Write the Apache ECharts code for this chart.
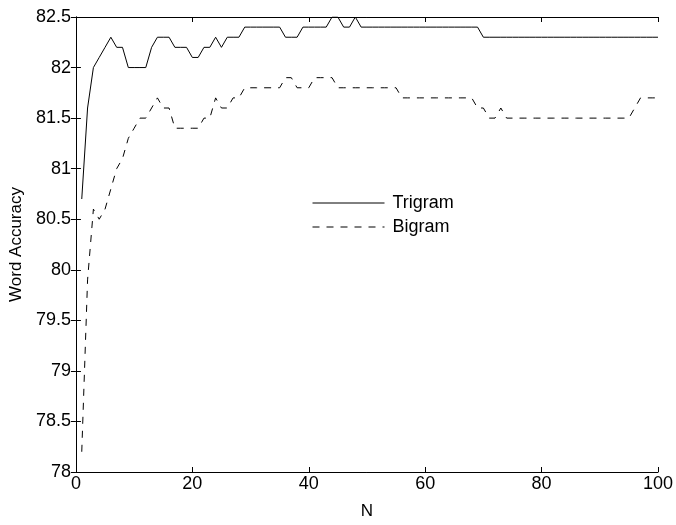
<!DOCTYPE html>
<html>
<head>
<meta charset="utf-8">
<script src="https://cdn.jsdelivr.net/npm/echarts@6/dist/echarts.min.js"></script>
<style>
html,body{margin:0;padding:0;background:#fff;}
#chart{width:676px;height:525px;}
</style>
</head>
<body>
<div id="chart"></div>
<script>
// N = 1..100
const trigram = [
  80.7, 81.6, 82.0, 82.1, 82.2, 82.3, 82.2, 82.2, 82.0, 82.0,
  82.0, 82.0, 82.2, 82.3, 82.3, 82.3, 82.2, 82.2, 82.2, 82.1,
  82.1, 82.2, 82.2, 82.3, 82.2, 82.3, 82.3, 82.3, 82.4, 82.4,
  82.4, 82.4, 82.4, 82.4, 82.4, 82.3, 82.3, 82.3, 82.4, 82.4,
  82.4, 82.4, 82.4, 82.5, 82.5, 82.4, 82.4, 82.5, 82.4, 82.4,
  82.4, 82.4, 82.4, 82.4, 82.4, 82.4, 82.4, 82.4, 82.4, 82.4,
  82.4, 82.4, 82.4, 82.4, 82.4, 82.4, 82.4, 82.4, 82.4, 82.3,
  82.3, 82.3, 82.3, 82.3, 82.3, 82.3, 82.3, 82.3, 82.3, 82.3,
  82.3, 82.3, 82.3, 82.3, 82.3, 82.3, 82.3, 82.3, 82.3, 82.3,
  82.3, 82.3, 82.3, 82.3, 82.3, 82.3, 82.3, 82.3, 82.3, 82.3
];
const bigram = [
  78.2, 79.9, 80.6, 80.5, 80.6, 80.8, 81.0, 81.1, 81.3, 81.4,
  81.5, 81.5, 81.6, 81.7, 81.6, 81.6, 81.4, 81.4, 81.4, 81.4,
  81.4, 81.5, 81.5, 81.7, 81.6, 81.6, 81.7, 81.7, 81.8, 81.8,
  81.8, 81.8, 81.8, 81.8, 81.8, 81.9, 81.9, 81.8, 81.8, 81.8,
  81.9, 81.9, 81.9, 81.9, 81.8, 81.8, 81.8, 81.8, 81.8, 81.8,
  81.8, 81.8, 81.8, 81.8, 81.8, 81.7, 81.7, 81.7, 81.7, 81.7,
  81.7, 81.7, 81.7, 81.7, 81.7, 81.7, 81.7, 81.7, 81.6, 81.6,
  81.5, 81.5, 81.6, 81.5, 81.5, 81.5, 81.5, 81.5, 81.5, 81.5,
  81.5, 81.5, 81.5, 81.5, 81.5, 81.5, 81.5, 81.5, 81.5, 81.5,
  81.5, 81.5, 81.5, 81.5, 81.5, 81.6, 81.7, 81.7, 81.7, 81.7
];
const seriesNames = ['Trigram', 'Bigram'];
const xLabel = 'N';
const yLabel = 'Word Accuracy';

const pairs = arr => arr.map((v, i) => [i + 1, v]);
const FONT = 'Liberation Sans, Arial, Helvetica, sans-serif';
const FS = 18;
const FS_NAME = 17;

const chart = echarts.init(document.getElementById('chart'), null, {renderer: 'canvas'});
const axisCommon = {
  axisLine: {show: true, lineStyle: {color: '#000', width: 1}},
  axisTick: {show: true, inside: true, length: 5, lineStyle: {color: '#000', width: 1}},
  splitLine: {show: false}
};
chart.setOption({
  animation: false,
  backgroundColor: '#fff',
  grid: {left: 70, right: 15, top: 17, bottom: 42, containLabel: false},
  legend: {
    orient: 'vertical',
    left: 307, top: 189,
    itemWidth: 72, itemHeight: 14, itemGap: 6,
    data: seriesNames,
    itemStyle: {opacity: 0},
    lineStyle: {width: 1, color: '#000'},
    textStyle: {fontFamily: FONT, fontSize: FS, color: '#000', padding: [0, 0, 0, 3]}
  },
  xAxis: [
    Object.assign({
      type: 'value', min: 0, max: 100, interval: 20, position: 'bottom',
      name: xLabel, nameLocation: 'middle', nameGap: 31,
      nameTextStyle: {fontFamily: FONT, fontSize: FS_NAME, color: '#000'},
      axisLabel: {fontFamily: FONT, fontSize: FS, color: '#000', margin: 3}
    }, axisCommon),
    Object.assign({
      type: 'value', min: 0, max: 100, interval: 20, position: 'top',
      axisLabel: {show: false}
    }, axisCommon)
  ],
  yAxis: [
    Object.assign({
      type: 'value', min: 78, max: 82.5, interval: 0.5, position: 'left',
      name: yLabel, nameLocation: 'middle', nameGap: 44, nameRotate: 90,
      nameTextStyle: {fontFamily: FONT, fontSize: FS_NAME, color: '#000'},
      axisLabel: {fontFamily: FONT, fontSize: FS, color: '#000', margin: 5}
    }, axisCommon),
    Object.assign({
      type: 'value', min: 78, max: 82.5, interval: 0.5, position: 'right',
      axisLabel: {show: false}
    }, axisCommon)
  ],
  series: [
    {
      name: seriesNames[0], type: 'line', data: pairs(trigram), symbol: 'none',
      xAxisIndex: 0, yAxisIndex: 0,
      lineStyle: {color: '#000', width: 1, type: 'solid'}, itemStyle: {color: '#000'}
    },
    {
      name: seriesNames[1], type: 'line', data: pairs(bigram), symbol: 'none',
      xAxisIndex: 0, yAxisIndex: 0,
      lineStyle: {color: '#000', width: 1, type: [7, 7]}, itemStyle: {color: '#000'}
    }
  ]
});
</script>
</body>
</html>
